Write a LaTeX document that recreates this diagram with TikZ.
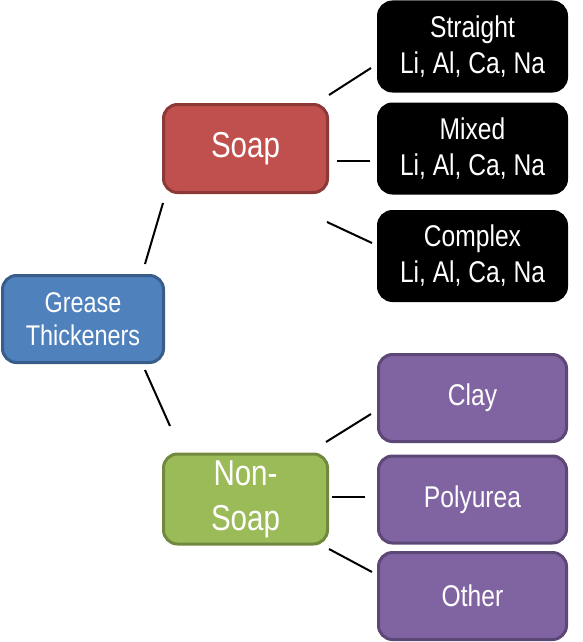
\documentclass[tikz,border=0pt]{standalone}
\usepackage{fontspec}
\setmainfont{Liberation Sans}[FakeStretch=0.82]
\begin{document}
\begin{tikzpicture}[x=1pt,y=-1pt,
  box/.style={rounded corners=14pt, line width=3pt, text=white, align=center, inner sep=0pt},
  bluebox/.style={box, fill={rgb,255:red,79;green,129;blue,189}, draw={rgb,255:red,56;green,93;blue,138}, minimum width=161pt, minimum height=87pt, font=\fontsize{28.5}{33}\selectfont},
  redbox/.style={box, fill={rgb,255:red,192;green,80;blue,77}, draw={rgb,255:red,140;green,56;blue,54}, minimum width=164pt, minimum height=88pt, font=\fontsize{36}{44}\selectfont},
  greenbox/.style={box, fill={rgb,255:red,155;green,187;blue,89}, draw={rgb,255:red,113;green,137;blue,63}, minimum width=164pt, minimum height=87pt, font=\fontsize{36}{45}\selectfont},
  blackbox/.style={box, fill=black, draw=black, minimum width=188pt, minimum height=89pt, font=\fontsize{30}{36}\selectfont},
  purplebox/.style={box, fill={rgb,255:red,128;green,100;blue,162}, draw={rgb,255:red,92;green,71;blue,118}, minimum width=188pt, minimum height=87pt, font=\fontsize{30}{36}\selectfont},
  link/.style={line width=2pt, draw=black}]
\useasboundingbox (0,0) rectangle (583,642);
\node[bluebox] (g) at (83,319) {Grease\\Thickeners};
\node[redbox] (soap) at (245.5,148.5) {Soap};
\node[greenbox] (non) at (245.5,499) {\raisebox{-3pt}{\begin{tabular}{@{}c@{}}Non-\\Soap\end{tabular}}};
\node[blackbox] (st) at (472.5,46.5) {Straight\\Li, Al, Ca, Na};
\node[blackbox] (mx) at (472.5,148.5) {Mixed\\Li, Al, Ca, Na};
\node[blackbox] (cx) at (472.5,256) {Complex\\Li, Al, Ca, Na};
\node[purplebox] (clay) at (472.5,398) {Clay};
\node[purplebox] (poly) at (472.5,499.5) {Polyurea};
\node[purplebox] (oth) at (472.5,596) {Other};
\coordinate (gs1) at (145,264); \coordinate (gs2) at (163,203);
\coordinate (gn1) at (145,370); \coordinate (gn2) at (170,426);
\coordinate (s11) at (329,95);  \coordinate (s12) at (371,68);
\coordinate (s21) at (337,161); \coordinate (s22) at (370,161);
\coordinate (s31) at (327,222); \coordinate (s32) at (372,243);
\coordinate (n11) at (326,442); \coordinate (n12) at (371,414);
\coordinate (n21) at (332,497); \coordinate (n22) at (365,497);
\coordinate (n31) at (329,549); \coordinate (n32) at (372,572);
\draw[link] (gs1) -- (gs2);
\draw[link] (gn1) -- (gn2);
\draw[link] (s11) -- (s12);
\draw[link] (s21) -- (s22);
\draw[link] (s31) -- (s32);
\draw[link] (n11) -- (n12);
\draw[link] (n21) -- (n22);
\draw[link] (n31) -- (n32);
\end{tikzpicture}
\end{document}
